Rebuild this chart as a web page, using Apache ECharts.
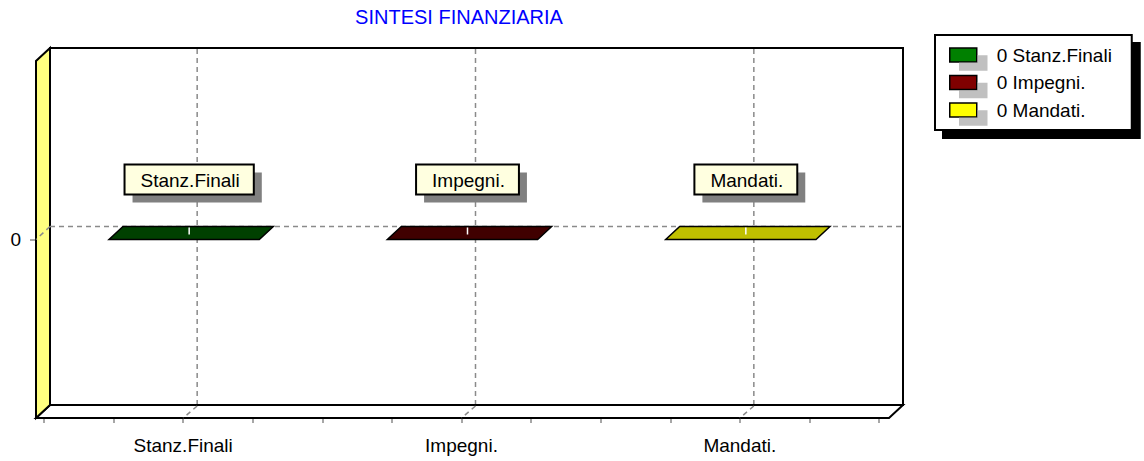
<!DOCTYPE html>
<html><head><meta charset="utf-8">
<script src="https://cdn.jsdelivr.net/npm/echarts@6/dist/echarts.min.js"></script>
<style>html,body{margin:0;padding:0;background:#fff}#c{width:1144px;height:461px}</style>
</head><body><div id="c"></div>
<script>
// ---- data ----
const chartTitle = 'SINTESI FINANZIARIA';
const categories = ['Stanz.Finali', 'Impegni.', 'Mandati.'];
const values = [0, 0, 0];
const yTickValues = [0];
const yMin = -1, yMax = 1;

// ---- styles ----
const FAMILY = '"Liberation Sans", Arial, sans-serif';
const FS = 19;
const TITLE_FS = 20;
const legendColors = ['#008000', '#800000', '#ffff00'];
const topColors = ['#004000', '#400000', '#c0c000'];
const frontColors = ['#006000', '#600000', '#e0e000'];
const sideColors = ['#003000', '#300000', '#a0a000'];
const DX = -14, DY = 13;            // pseudo-3D depth offset
const WALL_PAD_L = 8, WALL_PAD_R = 10;
const BAR_RATIO = 0.54;
const GRID_COLOR = '#8a8a8a';

const mctx = document.createElement('canvas').getContext('2d');
function tw(text, size) { mctx.font = size + 'px ' + FAMILY; return mctx.measureText(text).width; }

const chart = echarts.init(document.getElementById('c'), null, {renderer: 'svg'});

function frameRender(params, api) {
  const cs = params.coordSys;
  const L = cs.x - WALL_PAD_L, R = cs.x + cs.width + WALL_PAD_R, T = cs.y, B = cs.y + cs.height;
  const dash = {stroke: GRID_COLOR, lineWidth: 1.5, lineDash: [5, 4]};
  const ch = [];
  ch.push({type: 'polygon', shape: {points: [[L, T], [R, T], [R, B], [L, B]]}, style: {fill: '#fff', stroke: '#000', lineWidth: 2}});
  ch.push({type: 'polygon', shape: {points: [[L, B], [R, B], [R + DX, B + DY], [L + DX, B + DY]]}, style: {fill: '#fff', stroke: '#000', lineWidth: 2}});
  ch.push({type: 'polygon', shape: {points: [[L, T], [L + DX, T + DY], [L + DX, B + DY], [L, B]]}, style: {fill: '#ffff80', stroke: '#000', lineWidth: 2}});
  yTickValues.forEach(v => {
    const y = api.coord([0, v])[1];
    ch.push({type: 'line', shape: {x1: L, y1: y, x2: R, y2: y}, style: dash});
    ch.push({type: 'line', shape: {x1: L, y1: y, x2: L + DX, y2: y + DY}, style: dash});
  });
  categories.forEach((c, i) => {
    const x = api.coord([i, 0])[0];
    ch.push({type: 'line', shape: {x1: x, y1: T + 1, x2: x, y2: B - 1}, style: dash});
    ch.push({type: 'line', shape: {x1: x, y1: B + 1, x2: x + DX, y2: B + DY}, style: dash});
  });
  return {type: 'group', children: ch};
}

function barRender(si) {
  return function (params, api) {
    const ci = api.value(0), v = api.value(1);
    const top = api.coord([ci, v]);
    const base = api.coord([ci, 0]);
    const bw = api.size([1, 0])[0] * BAR_RATIO;
    const x0 = top[0] - bw / 2 + 1, x1 = x0 + bw;
    const yt = Math.min(top[1], base[1]), yb = Math.max(top[1], base[1]);
    const st = {stroke: '#000', lineWidth: 1.5};
    const ch = [];
    if (yb - yt > 0.5) {
      ch.push({type: 'polygon', shape: {points: [[x1, yt], [x1, yb], [x1 + DX, yb + DY], [x1 + DX, yt + DY]]}, style: Object.assign({fill: sideColors[si]}, st)});
      ch.push({type: 'rect', shape: {x: x0 + DX, y: yt + DY, width: bw, height: yb - yt}, style: Object.assign({fill: frontColors[si]}, st)});
    }
    ch.push({type: 'polygon', shape: {points: [[x0, yt], [x1, yt], [x1 + DX, yt + DY], [x0 + DX, yt + DY]]}, style: Object.assign({fill: topColors[si]}, st)});
    const mx = (x0 + x1) / 2 + DX / 2 - 2;
    ch.push({type: 'line', shape: {x1: mx, y1: yt + 1, x2: mx, y2: yt + 8}, style: {stroke: '#fff', lineWidth: 1.5}});
    // label box
    const text = categories[ci];
    const w = tw(text, FS) + 30, h = 30;
    const bx = mx - w / 2, by = yt - 32 - h;
    ch.push({type: 'rect', shape: {x: bx + 8, y: by + 8, width: w, height: h}, style: {fill: '#808080'}});
    ch.push({type: 'rect', shape: {x: bx, y: by, width: w, height: h}, style: {fill: '#ffffe0', stroke: '#000', lineWidth: 2}});
    ch.push({type: 'text', x: mx + 1, y: by + h / 2 + 1, style: {text: text, fill: '#000', font: FS + 'px ' + FAMILY, align: 'center', verticalAlign: 'middle'}});
    return {type: 'group', children: ch};
  };
}

const legendLabels = categories.map((c, i) => values[i] + ' ' + c);
const maxLegW = Math.max(...legendLabels.map(t => tw(t, FS)));
const legendPadR = Math.max(8, 198 - 63 - maxLegW);
const titleW = tw(chartTitle, TITLE_FS);

const series = [{
  type: 'custom', name: '__frame', xAxisIndex: 0, yAxisIndex: 0, z: 1, silent: true,
  renderItem: frameRender, data: [[0, 0]]
}];
categories.forEach((c, i) => {
  series.push({
    type: 'custom', name: c, xAxisIndex: 0, yAxisIndex: 0, z: 5,
    itemStyle: {color: legendColors[i], borderColor: '#000', borderWidth: 1.5},
    renderItem: barRender(i), data: [[i, values[i]]]
  });
});

const hiddenLine = {show: true, onZero: false, lineStyle: {color: '#000', opacity: 0}};

chart.setOption({
  animation: false,
  title: {text: chartTitle, left: 459 - titleW / 2, top: 7, padding: 0,
    textStyle: {color: '#0000ff', fontSize: TITLE_FS, fontWeight: 'normal', fontFamily: FAMILY}},
  legend: {
    data: categories, orient: 'vertical', left: 935, top: 35,
    padding: [10, legendPadR, 10, 14], itemWidth: 27, itemHeight: 14, itemGap: 7.5,
    icon: 'rect', backgroundColor: '#fff', borderColor: '#000', borderWidth: 2,
    shadowColor: '#000', shadowBlur: 0, shadowOffsetX: 8, shadowOffsetY: 8,
    selectedMode: false,
    itemStyle: {borderColor: '#000', borderWidth: 1.5, shadowColor: '#c0c0c0', shadowBlur: 0, shadowOffsetX: 10, shadowOffsetY: 8},
    formatter: name => values[categories.indexOf(name)] + ' ' + name,
    textStyle: {color: '#000', fontSize: FS, fontFamily: FAMILY, lineHeight: 20, padding: [0, 0, 0, 15]}
  },
  grid: [
    {left: 58, top: 48, width: 835, height: 357},
    {left: 44, top: 61, width: 835, height: 357}
  ],
  xAxis: [
    {gridIndex: 0, type: 'category', data: categories, show: false},
    {gridIndex: 1, type: 'value', min: -0.5, max: 2.5, interval: 0.25, position: 'bottom',
      axisLine: hiddenLine, splitLine: {show: false},
      axisTick: {show: true, length: 5, lineStyle: {color: GRID_COLOR, width: 1.5}},
      axisLabel: {margin: 18, color: '#000', fontSize: FS, fontFamily: FAMILY,
        formatter: v => (Math.abs(v - Math.round(v)) < 1e-6 && categories[Math.round(v)]) ? categories[Math.round(v)] : ''}}
  ],
  yAxis: [
    {gridIndex: 0, type: 'value', min: yMin, max: yMax, show: false},
    {gridIndex: 1, type: 'value', min: yMin, max: yMax, interval: 1, offset: 8, position: 'left',
      axisLine: hiddenLine, splitLine: {show: false},
      axisTick: {show: true, length: 6, customValues: yTickValues, lineStyle: {color: GRID_COLOR, width: 1.5}},
      axisLabel: {margin: 15, color: '#000', fontSize: FS, fontFamily: FAMILY, customValues: yTickValues}}
  ],
  series: series
});
</script></body></html>
